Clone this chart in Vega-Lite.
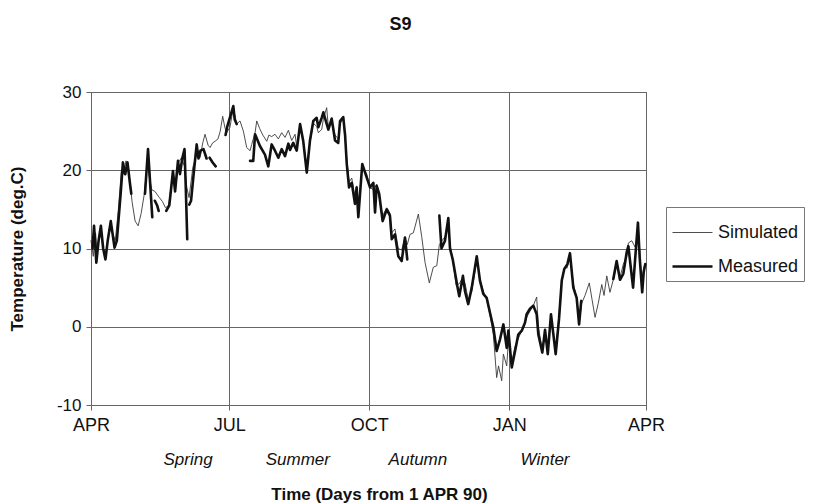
{
  "$schema": "https://vega.github.io/schema/vega-lite/v6.json",
  "width": 555,
  "height": 313,
  "autosize": "none",
  "padding": {"left": 91, "top": 92, "right": 168, "bottom": 98},
  "background": "white",
  "title": {
    "text": "S9",
    "font": "Liberation Sans",
    "fontSize": 18,
    "fontWeight": "bold",
    "color": "#111",
    "anchor": "middle",
    "dx": 32,
    "offset": 49
  },
  "config": {
    "font": "Liberation Sans",
    "view": {"stroke": "#666", "strokeWidth": 1},
    "axis": {
      "gridColor": "#666",
      "gridOpacity": 1,
      "gridWidth": 1,
      "domainColor": "#666",
      "tickColor": "#666",
      "labelColor": "#111",
      "titleColor": "#111",
      "labelFont": "Liberation Sans",
      "titleFont": "Liberation Sans"
    }
  },
  "datasets": {
    "temps": [
      {"day": 0, "temp": 11, "series": "Simulated"},
      {"day": 1.5, "temp": 9, "series": "Simulated"},
      {"day": 3, "temp": 12, "series": "Simulated"},
      {"day": 4, "temp": 9.5, "series": "Simulated"},
      {"day": 6, "temp": 12.5, "series": "Simulated"},
      {"day": 8, "temp": 10, "series": "Simulated"},
      {"day": 10, "temp": 9.5, "series": "Simulated"},
      {"day": 12, "temp": 12.5, "series": "Simulated"},
      {"day": 14, "temp": 12, "series": "Simulated"},
      {"day": 16, "temp": 11, "series": "Simulated"},
      {"day": 18, "temp": 15, "series": "Simulated"},
      {"day": 20, "temp": 20, "series": "Simulated"},
      {"day": 21.5, "temp": 19.5, "series": "Simulated"},
      {"day": 23, "temp": 21.2, "series": "Simulated"},
      {"day": 24.5, "temp": 20.5, "series": "Simulated"},
      {"day": 27, "temp": 16, "series": "Simulated"},
      {"day": 29, "temp": 13.5, "series": "Simulated"},
      {"day": 31, "temp": 12.9, "series": "Simulated"},
      {"day": 33, "temp": 14.5, "series": "Simulated"},
      {"day": 35, "temp": 16.9, "series": "Simulated"},
      {"day": 37, "temp": 21, "series": "Simulated"},
      {"day": 38.5, "temp": 19, "series": "Simulated"},
      {"day": 40, "temp": 17.5, "series": "Simulated"},
      {"day": 42, "temp": 17.3, "series": "Simulated"},
      {"day": 45, "temp": 16.5, "series": "Simulated"},
      {"day": 47, "temp": 16, "series": "Simulated"},
      {"day": 49, "temp": 15.2, "series": "Simulated"},
      {"day": 51, "temp": 15.5, "series": "Simulated"},
      {"day": 53.5, "temp": 19, "series": "Simulated"},
      {"day": 55.5, "temp": 17.5, "series": "Simulated"},
      {"day": 57.5, "temp": 21, "series": "Simulated"},
      {"day": 59.5, "temp": 21.6, "series": "Simulated"},
      {"day": 61.5, "temp": 20.5, "series": "Simulated"},
      {"day": 63, "temp": 17.8, "series": "Simulated"},
      {"day": 64.5, "temp": 16.5, "series": "Simulated"},
      {"day": 67, "temp": 20.4, "series": "Simulated"},
      {"day": 69.5, "temp": 22, "series": "Simulated"},
      {"day": 71.7, "temp": 21.6, "series": "Simulated"},
      {"day": 73.5, "temp": 23.5, "series": "Simulated"},
      {"day": 75, "temp": 24.6, "series": "Simulated"},
      {"day": 77, "temp": 23.2, "series": "Simulated"},
      {"day": 78.3, "temp": 22.9, "series": "Simulated"},
      {"day": 80, "temp": 23.5, "series": "Simulated"},
      {"day": 81.6, "temp": 23.7, "series": "Simulated"},
      {"day": 83.5, "temp": 24, "series": "Simulated"},
      {"day": 85, "temp": 25, "series": "Simulated"},
      {"day": 86.6, "temp": 26.9, "series": "Simulated"},
      {"day": 88, "temp": 25.5, "series": "Simulated"},
      {"day": 89.2, "temp": 24.8, "series": "Simulated"},
      {"day": 91.4, "temp": 25.5, "series": "Simulated"},
      {"day": 93.6, "temp": 28, "series": "Simulated"},
      {"day": 95.8, "temp": 25.9, "series": "Simulated"},
      {"day": 98, "temp": 26.3, "series": "Simulated"},
      {"day": 100.2, "temp": 25, "series": "Simulated"},
      {"day": 102.4, "temp": 22.9, "series": "Simulated"},
      {"day": 104.6, "temp": 22.5, "series": "Simulated"},
      {"day": 105.7, "temp": 23.3, "series": "Simulated"},
      {"day": 107.9, "temp": 24.8, "series": "Simulated"},
      {"day": 109, "temp": 26.3, "series": "Simulated"},
      {"day": 111, "temp": 25.3, "series": "Simulated"},
      {"day": 113, "temp": 24.5, "series": "Simulated"},
      {"day": 115.6, "temp": 23.7, "series": "Simulated"},
      {"day": 117, "temp": 24.5, "series": "Simulated"},
      {"day": 118.8, "temp": 24.3, "series": "Simulated"},
      {"day": 121, "temp": 24.6, "series": "Simulated"},
      {"day": 123.2, "temp": 24, "series": "Simulated"},
      {"day": 125.4, "temp": 24.8, "series": "Simulated"},
      {"day": 127.6, "temp": 24.2, "series": "Simulated"},
      {"day": 129.8, "temp": 25.1, "series": "Simulated"},
      {"day": 132, "temp": 23.8, "series": "Simulated"},
      {"day": 134.2, "temp": 24.6, "series": "Simulated"},
      {"day": 135.3, "temp": 23, "series": "Simulated"},
      {"day": 137.5, "temp": 25.9, "series": "Simulated"},
      {"day": 139.6, "temp": 23.7, "series": "Simulated"},
      {"day": 141.9, "temp": 20.5, "series": "Simulated"},
      {"day": 144, "temp": 23.5, "series": "Simulated"},
      {"day": 146.2, "temp": 26, "series": "Simulated"},
      {"day": 148.4, "temp": 25.6, "series": "Simulated"},
      {"day": 149.5, "temp": 24.8, "series": "Simulated"},
      {"day": 151.7, "temp": 25.2, "series": "Simulated"},
      {"day": 152.8, "temp": 26.5, "series": "Simulated"},
      {"day": 155, "temp": 28, "series": "Simulated"},
      {"day": 156.1, "temp": 25.5, "series": "Simulated"},
      {"day": 158.3, "temp": 26, "series": "Simulated"},
      {"day": 160.5, "temp": 24.5, "series": "Simulated"},
      {"day": 162.6, "temp": 24, "series": "Simulated"},
      {"day": 163.8, "temp": 26, "series": "Simulated"},
      {"day": 165.9, "temp": 26.5, "series": "Simulated"},
      {"day": 167.1, "temp": 24, "series": "Simulated"},
      {"day": 168.2, "temp": 21.5, "series": "Simulated"},
      {"day": 169.7, "temp": 18.5, "series": "Simulated"},
      {"day": 171.5, "temp": 19, "series": "Simulated"},
      {"day": 173.6, "temp": 16.5, "series": "Simulated"},
      {"day": 174.7, "temp": 18, "series": "Simulated"},
      {"day": 175.8, "temp": 15, "series": "Simulated"},
      {"day": 178.4, "temp": 20.5, "series": "Simulated"},
      {"day": 181.3, "temp": 19.5, "series": "Simulated"},
      {"day": 183.5, "temp": 17.8, "series": "Simulated"},
      {"day": 185.7, "temp": 17.5, "series": "Simulated"},
      {"day": 187.9, "temp": 18.2, "series": "Simulated"},
      {"day": 189.5, "temp": 16.5, "series": "Simulated"},
      {"day": 191.8, "temp": 14.2, "series": "Simulated"},
      {"day": 194.5, "temp": 15.2, "series": "Simulated"},
      {"day": 196.6, "temp": 14.5, "series": "Simulated"},
      {"day": 197.8, "temp": 12, "series": "Simulated"},
      {"day": 199.9, "temp": 12.5, "series": "Simulated"},
      {"day": 202.1, "temp": 10, "series": "Simulated"},
      {"day": 204.3, "temp": 9.8, "series": "Simulated"},
      {"day": 206.5, "temp": 11.4, "series": "Simulated"},
      {"day": 208, "temp": 10.5, "series": "Simulated"},
      {"day": 209.8, "temp": 11.8, "series": "Simulated"},
      {"day": 212, "temp": 12, "series": "Simulated"},
      {"day": 215.3, "temp": 14.4, "series": "Simulated"},
      {"day": 217.5, "temp": 11.5, "series": "Simulated"},
      {"day": 219.7, "temp": 8.2, "series": "Simulated"},
      {"day": 222.5, "temp": 5.6, "series": "Simulated"},
      {"day": 225.1, "temp": 7.6, "series": "Simulated"},
      {"day": 227.4, "temp": 7.8, "series": "Simulated"},
      {"day": 229.1, "temp": 10.5, "series": "Simulated"},
      {"day": 230.9, "temp": 11, "series": "Simulated"},
      {"day": 232.8, "temp": 11.5, "series": "Simulated"},
      {"day": 235, "temp": 13, "series": "Simulated"},
      {"day": 236.1, "temp": 10.5, "series": "Simulated"},
      {"day": 237.9, "temp": 8.6, "series": "Simulated"},
      {"day": 240.1, "temp": 5.3, "series": "Simulated"},
      {"day": 242.2, "temp": 5.5, "series": "Simulated"},
      {"day": 244, "temp": 6.1, "series": "Simulated"},
      {"day": 246, "temp": 5.5, "series": "Simulated"},
      {"day": 248.1, "temp": 3.5, "series": "Simulated"},
      {"day": 250.4, "temp": 4.5, "series": "Simulated"},
      {"day": 253.7, "temp": 8.5, "series": "Simulated"},
      {"day": 255.8, "temp": 6, "series": "Simulated"},
      {"day": 258, "temp": 4.5, "series": "Simulated"},
      {"day": 260.2, "temp": 3.5, "series": "Simulated"},
      {"day": 262.4, "temp": 1.5, "series": "Simulated"},
      {"day": 264.6, "temp": -1, "series": "Simulated"},
      {"day": 266.8, "temp": -6.5, "series": "Simulated"},
      {"day": 268, "temp": -5, "series": "Simulated"},
      {"day": 270.1, "temp": -6.9, "series": "Simulated"},
      {"day": 271.2, "temp": -3.5, "series": "Simulated"},
      {"day": 273.4, "temp": -5, "series": "Simulated"},
      {"day": 274.5, "temp": -2, "series": "Simulated"},
      {"day": 276.7, "temp": -4.5, "series": "Simulated"},
      {"day": 278.9, "temp": -2.5, "series": "Simulated"},
      {"day": 281, "temp": -1.5, "series": "Simulated"},
      {"day": 283.3, "temp": -0.5, "series": "Simulated"},
      {"day": 285.4, "temp": 0.5, "series": "Simulated"},
      {"day": 286.5, "temp": 1.2, "series": "Simulated"},
      {"day": 288.7, "temp": 2, "series": "Simulated"},
      {"day": 290.9, "temp": 2.7, "series": "Simulated"},
      {"day": 293.1, "temp": 3.8, "series": "Simulated"},
      {"day": 294.2, "temp": 0, "series": "Simulated"},
      {"day": 296.8, "temp": -3, "series": "Simulated"},
      {"day": 298.6, "temp": -0.5, "series": "Simulated"},
      {"day": 300.4, "temp": -3.3, "series": "Simulated"},
      {"day": 302.5, "temp": 1.2, "series": "Simulated"},
      {"day": 304.1, "temp": -1, "series": "Simulated"},
      {"day": 305.6, "temp": -3.2, "series": "Simulated"},
      {"day": 307.8, "temp": 1.5, "series": "Simulated"},
      {"day": 309.6, "temp": 5.9, "series": "Simulated"},
      {"day": 311.3, "temp": 7.6, "series": "Simulated"},
      {"day": 313.1, "temp": 7.5, "series": "Simulated"},
      {"day": 315, "temp": 9, "series": "Simulated"},
      {"day": 317.2, "temp": 5.5, "series": "Simulated"},
      {"day": 319.5, "temp": 3.5, "series": "Simulated"},
      {"day": 321.1, "temp": 0.5, "series": "Simulated"},
      {"day": 322.7, "temp": 3, "series": "Simulated"},
      {"day": 324.9, "temp": 4, "series": "Simulated"},
      {"day": 327.7, "temp": 5.6, "series": "Simulated"},
      {"day": 329.5, "temp": 3.5, "series": "Simulated"},
      {"day": 331.5, "temp": 1.2, "series": "Simulated"},
      {"day": 333.6, "temp": 3, "series": "Simulated"},
      {"day": 335.9, "temp": 5.4, "series": "Simulated"},
      {"day": 337.4, "temp": 4, "series": "Simulated"},
      {"day": 339.2, "temp": 6.5, "series": "Simulated"},
      {"day": 341.3, "temp": 4.4, "series": "Simulated"},
      {"day": 343.5, "temp": 6, "series": "Simulated"},
      {"day": 345.7, "temp": 8, "series": "Simulated"},
      {"day": 347.9, "temp": 6.3, "series": "Simulated"},
      {"day": 350.1, "temp": 8, "series": "Simulated"},
      {"day": 352.3, "temp": 9, "series": "Simulated"},
      {"day": 353.4, "temp": 10.7, "series": "Simulated"},
      {"day": 355.6, "temp": 11, "series": "Simulated"},
      {"day": 357.8, "temp": 10.2, "series": "Simulated"},
      {"day": 360, "temp": 12.5, "series": "Simulated"},
      {"day": 362.2, "temp": 5.4, "series": "Simulated"},
      {"day": 363.5, "temp": 7.5, "series": "Simulated"},
      {"day": 364.5, "temp": 8, "series": "Simulated"},

      {"day": 1, "temp": 10, "series": "Measured"},
      {"day": 2, "temp": 12.9, "series": "Measured"},
      {"day": 3.5, "temp": 8.2, "series": "Measured"},
      {"day": 5, "temp": 11, "series": "Measured"},
      {"day": 6.5, "temp": 12.9, "series": "Measured"},
      {"day": 8, "temp": 10, "series": "Measured"},
      {"day": 9.5, "temp": 8.6, "series": "Measured"},
      {"day": 11, "temp": 11, "series": "Measured"},
      {"day": 13, "temp": 13.5, "series": "Measured"},
      {"day": 15.5, "temp": 10.1, "series": "Measured"},
      {"day": 17, "temp": 11, "series": "Measured"},
      {"day": 19.5, "temp": 17, "series": "Measured"},
      {"day": 21, "temp": 21, "series": "Measured"},
      {"day": 22.5, "temp": 19.5, "series": "Measured"},
      {"day": 24, "temp": 21, "series": "Measured"},
      {"day": 25.5, "temp": 18.5, "series": "Measured"},
      {"day": 26.5, "temp": 17, "series": "Measured"},
      {"day": 27, "temp": null, "series": "Measured"},
      {"day": 35.5, "temp": 17, "series": "Measured"},
      {"day": 37.5, "temp": 22.7, "series": "Measured"},
      {"day": 39, "temp": 18, "series": "Measured"},
      {"day": 40.3, "temp": 14, "series": "Measured"},
      {"day": 41, "temp": null, "series": "Measured"},
      {"day": 42, "temp": 16.1, "series": "Measured"},
      {"day": 43.5, "temp": 15.5, "series": "Measured"},
      {"day": 44.5, "temp": 14.8, "series": "Measured"},
      {"day": 46, "temp": null, "series": "Measured"},
      {"day": 49.5, "temp": 14.8, "series": "Measured"},
      {"day": 51.5, "temp": 15.5, "series": "Measured"},
      {"day": 53.9, "temp": 19.9, "series": "Measured"},
      {"day": 55.3, "temp": 17.3, "series": "Measured"},
      {"day": 57.2, "temp": 21.2, "series": "Measured"},
      {"day": 58.5, "temp": 19.5, "series": "Measured"},
      {"day": 60, "temp": 21.5, "series": "Measured"},
      {"day": 61.5, "temp": 22.7, "series": "Measured"},
      {"day": 62.3, "temp": 18, "series": "Measured"},
      {"day": 63.3, "temp": 11.2, "series": "Measured"},
      {"day": 64, "temp": null, "series": "Measured"},
      {"day": 64.6, "temp": 15.6, "series": "Measured"},
      {"day": 65.8, "temp": 16.1, "series": "Measured"},
      {"day": 67.5, "temp": 19.5, "series": "Measured"},
      {"day": 69.5, "temp": 23.3, "series": "Measured"},
      {"day": 70.7, "temp": 21.5, "series": "Measured"},
      {"day": 72, "temp": 22.5, "series": "Measured"},
      {"day": 74, "temp": 22.7, "series": "Measured"},
      {"day": 76, "temp": 21.5, "series": "Measured"},
      {"day": 77, "temp": null, "series": "Measured"},
      {"day": 78, "temp": 21.6, "series": "Measured"},
      {"day": 80, "temp": 21, "series": "Measured"},
      {"day": 82, "temp": 20.5, "series": "Measured"},
      {"day": 83, "temp": null, "series": "Measured"},
      {"day": 88.5, "temp": 24.5, "series": "Measured"},
      {"day": 89.5, "temp": 25.5, "series": "Measured"},
      {"day": 91, "temp": 26.5, "series": "Measured"},
      {"day": 93.6, "temp": 28.2, "series": "Measured"},
      {"day": 94.5, "temp": 26.5, "series": "Measured"},
      {"day": 95.8, "temp": 25.9, "series": "Measured"},
      {"day": 97, "temp": null, "series": "Measured"},
      {"day": 104.6, "temp": 21.2, "series": "Measured"},
      {"day": 106.7, "temp": 21.2, "series": "Measured"},
      {"day": 107.9, "temp": 24.6, "series": "Measured"},
      {"day": 111.1, "temp": 23.1, "series": "Measured"},
      {"day": 114.4, "temp": 22, "series": "Measured"},
      {"day": 116.6, "temp": 20.5, "series": "Measured"},
      {"day": 118.8, "temp": 23.3, "series": "Measured"},
      {"day": 121, "temp": 22.5, "series": "Measured"},
      {"day": 123.2, "temp": 21.6, "series": "Measured"},
      {"day": 125.4, "temp": 22.7, "series": "Measured"},
      {"day": 127.6, "temp": 21.8, "series": "Measured"},
      {"day": 129.8, "temp": 23.4, "series": "Measured"},
      {"day": 130.9, "temp": 22.6, "series": "Measured"},
      {"day": 133, "temp": 23.5, "series": "Measured"},
      {"day": 135.3, "temp": 22.5, "series": "Measured"},
      {"day": 137.5, "temp": 25.9, "series": "Measured"},
      {"day": 139.6, "temp": 23.7, "series": "Measured"},
      {"day": 141.9, "temp": 19.7, "series": "Measured"},
      {"day": 144, "temp": 23.8, "series": "Measured"},
      {"day": 146.2, "temp": 26.3, "series": "Measured"},
      {"day": 148.4, "temp": 26.7, "series": "Measured"},
      {"day": 149.5, "temp": 25.5, "series": "Measured"},
      {"day": 151.7, "temp": 26.7, "series": "Measured"},
      {"day": 152.8, "temp": 27.4, "series": "Measured"},
      {"day": 156.1, "temp": 25.2, "series": "Measured"},
      {"day": 158.3, "temp": 26.6, "series": "Measured"},
      {"day": 160.5, "temp": 23.8, "series": "Measured"},
      {"day": 162.6, "temp": 23.5, "series": "Measured"},
      {"day": 163.8, "temp": 26.3, "series": "Measured"},
      {"day": 165.9, "temp": 26.8, "series": "Measured"},
      {"day": 167.1, "temp": 24.5, "series": "Measured"},
      {"day": 168.2, "temp": 20.8, "series": "Measured"},
      {"day": 169.7, "temp": 17.8, "series": "Measured"},
      {"day": 171.5, "temp": 18.4, "series": "Measured"},
      {"day": 173.6, "temp": 15.7, "series": "Measured"},
      {"day": 174.7, "temp": 17.8, "series": "Measured"},
      {"day": 175.8, "temp": 14, "series": "Measured"},
      {"day": 178.4, "temp": 20.8, "series": "Measured"},
      {"day": 181.3, "temp": 19.1, "series": "Measured"},
      {"day": 183.5, "temp": 17.8, "series": "Measured"},
      {"day": 185.7, "temp": 18.4, "series": "Measured"},
      {"day": 186.8, "temp": 14.6, "series": "Measured"},
      {"day": 187.9, "temp": 18, "series": "Measured"},
      {"day": 189.5, "temp": 17, "series": "Measured"},
      {"day": 191.8, "temp": 13.5, "series": "Measured"},
      {"day": 194.5, "temp": 15, "series": "Measured"},
      {"day": 196.6, "temp": 14.2, "series": "Measured"},
      {"day": 197.8, "temp": 11.2, "series": "Measured"},
      {"day": 199.9, "temp": 11.8, "series": "Measured"},
      {"day": 202.1, "temp": 9, "series": "Measured"},
      {"day": 204.3, "temp": 8.4, "series": "Measured"},
      {"day": 206.5, "temp": 11.4, "series": "Measured"},
      {"day": 208, "temp": 8.6, "series": "Measured"},
      {"day": 209, "temp": null, "series": "Measured"},
      {"day": 229.1, "temp": 14.2, "series": "Measured"},
      {"day": 230.5, "temp": 10, "series": "Measured"},
      {"day": 232.8, "temp": 11, "series": "Measured"},
      {"day": 235, "temp": 13.9, "series": "Measured"},
      {"day": 236.1, "temp": 10, "series": "Measured"},
      {"day": 237.9, "temp": 8.6, "series": "Measured"},
      {"day": 240.9, "temp": 5.2, "series": "Measured"},
      {"day": 242.2, "temp": 3.9, "series": "Measured"},
      {"day": 244.6, "temp": 6.5, "series": "Measured"},
      {"day": 246, "temp": 4.5, "series": "Measured"},
      {"day": 248.1, "temp": 2.9, "series": "Measured"},
      {"day": 250.4, "temp": 5, "series": "Measured"},
      {"day": 253.7, "temp": 9, "series": "Measured"},
      {"day": 255.8, "temp": 5.9, "series": "Measured"},
      {"day": 258, "temp": 4.2, "series": "Measured"},
      {"day": 260.2, "temp": 3.7, "series": "Measured"},
      {"day": 262.4, "temp": 1.8, "series": "Measured"},
      {"day": 264.6, "temp": -0.1, "series": "Measured"},
      {"day": 266.8, "temp": -3.1, "series": "Measured"},
      {"day": 269, "temp": -1.6, "series": "Measured"},
      {"day": 271.2, "temp": 0.3, "series": "Measured"},
      {"day": 273.4, "temp": -2.7, "series": "Measured"},
      {"day": 274.5, "temp": -0.5, "series": "Measured"},
      {"day": 276.7, "temp": -5.2, "series": "Measured"},
      {"day": 278.9, "temp": -3.1, "series": "Measured"},
      {"day": 281, "temp": -1, "series": "Measured"},
      {"day": 283.3, "temp": -0.5, "series": "Measured"},
      {"day": 285.4, "temp": 0.5, "series": "Measured"},
      {"day": 286.5, "temp": 1.6, "series": "Measured"},
      {"day": 288.7, "temp": 2.3, "series": "Measured"},
      {"day": 290.9, "temp": 2.7, "series": "Measured"},
      {"day": 293.1, "temp": 1.6, "series": "Measured"},
      {"day": 294.2, "temp": -1, "series": "Measured"},
      {"day": 296.8, "temp": -3.3, "series": "Measured"},
      {"day": 298.6, "temp": -0.4, "series": "Measured"},
      {"day": 300.4, "temp": -3.5, "series": "Measured"},
      {"day": 302.5, "temp": 1.6, "series": "Measured"},
      {"day": 304.1, "temp": -1, "series": "Measured"},
      {"day": 305.6, "temp": -3.5, "series": "Measured"},
      {"day": 307.8, "temp": 1, "series": "Measured"},
      {"day": 309.6, "temp": 5.9, "series": "Measured"},
      {"day": 311.3, "temp": 7.4, "series": "Measured"},
      {"day": 313.3, "temp": 8, "series": "Measured"},
      {"day": 315, "temp": 9.4, "series": "Measured"},
      {"day": 317.2, "temp": 5, "series": "Measured"},
      {"day": 319.4, "temp": 3.7, "series": "Measured"},
      {"day": 321, "temp": 0.3, "series": "Measured"},
      {"day": 322.4, "temp": 3.3, "series": "Measured"},
      {"day": 323, "temp": null, "series": "Measured"},
      {"day": 343.5, "temp": 6.1, "series": "Measured"},
      {"day": 345.7, "temp": 8.4, "series": "Measured"},
      {"day": 347.9, "temp": 6, "series": "Measured"},
      {"day": 350.1, "temp": 6.8, "series": "Measured"},
      {"day": 352.3, "temp": 9.5, "series": "Measured"},
      {"day": 353.4, "temp": 10.3, "series": "Measured"},
      {"day": 356.5, "temp": 5, "series": "Measured"},
      {"day": 357.8, "temp": 8.5, "series": "Measured"},
      {"day": 359.7, "temp": 13.3, "series": "Measured"},
      {"day": 360.8, "temp": 9, "series": "Measured"},
      {"day": 362.5, "temp": 4.4, "series": "Measured"},
      {"day": 363.5, "temp": 7, "series": "Measured"},
      {"day": 364.5, "temp": 8, "series": "Measured"}
    ],
    "seasons": [
      {"season": "Spring", "day": 63.8},
      {"season": "Summer", "day": 136},
      {"season": "Autumn", "day": 215},
      {"season": "Winter", "day": 298.6}
    ]
  },
  "layer": [
    {
      "data": {"name": "temps"},
      "mark": {"type": "line", "strokeJoin": "round", "strokeCap": "round", "invalid": "break-paths-show-domains"},
      "encoding": {
        "x": {
          "field": "day",
          "type": "quantitative",
          "scale": {"domain": [0, 365], "nice": false, "zero": false},
          "axis": {
            "values": [0, 91, 183, 275, 365],
            "labelExpr": "datum.value == 0 ? 'APR' : datum.value == 91 ? 'JUL' : datum.value == 183 ? 'OCT' : datum.value == 275 ? 'JAN' : 'APR'",
            "labelFlush": false,
            "labelFontSize": 18,
            "labelPadding": 6,
            "tickSize": 5,
            "title": "Time (Days from 1 APR 90)",
            "titleFontSize": 17,
            "titleFontWeight": "bold",
            "titlePadding": 52,
            "titleX": 288
          }
        },
        "y": {
          "field": "temp",
          "type": "quantitative",
          "scale": {"domain": [-10, 30], "nice": false},
          "axis": {
            "values": [-10, 0, 10, 20, 30],
            "labelExpr": "replace(datum.label, '\u2212', '-')",
            "labelFontSize": 17,
            "labelPadding": 5,
            "tickSize": 5,
            "title": "Temperature (deg.C)",
            "titleFontSize": 17,
            "titleFontWeight": "bold",
            "titlePadding": 30
          }
        },
        "color": {
          "field": "series",
          "type": "nominal",
          "scale": {"domain": ["Simulated", "Measured"], "range": ["#3a3a3a", "#111111"]},
          "legend": {
            "title": null,
            "orient": "none",
            "legendX": 575,
            "legendY": 115,
            "symbolType": "stroke",
            "symbolSize": 1600,
            "labelFontSize": 18,
            "labelFont": "Liberation Sans",
            "labelColor": "#111",
            "labelOffset": 4,
            "rowPadding": 3,
            "padding": 5,
            "strokeColor": "#777",
            "fillColor": "white",
            "labelLimit": 200
          }
        },
        "strokeWidth": {
          "field": "series",
          "type": "nominal",
          "scale": {"domain": ["Simulated", "Measured"], "range": [0.9, 2.6]},
          "legend": null
        }
      }
    },
    {
      "data": {"name": "seasons"},
      "mark": {"type": "text", "font": "Liberation Sans", "fontSize": 17, "fontStyle": "italic", "color": "#111", "baseline": "middle", "align": "center"},
      "encoding": {
        "x": {"field": "day", "type": "quantitative"},
        "y": {"datum": -17, "type": "quantitative"},
        "text": {"field": "season", "type": "nominal"}
      }
    }
  ]
}
